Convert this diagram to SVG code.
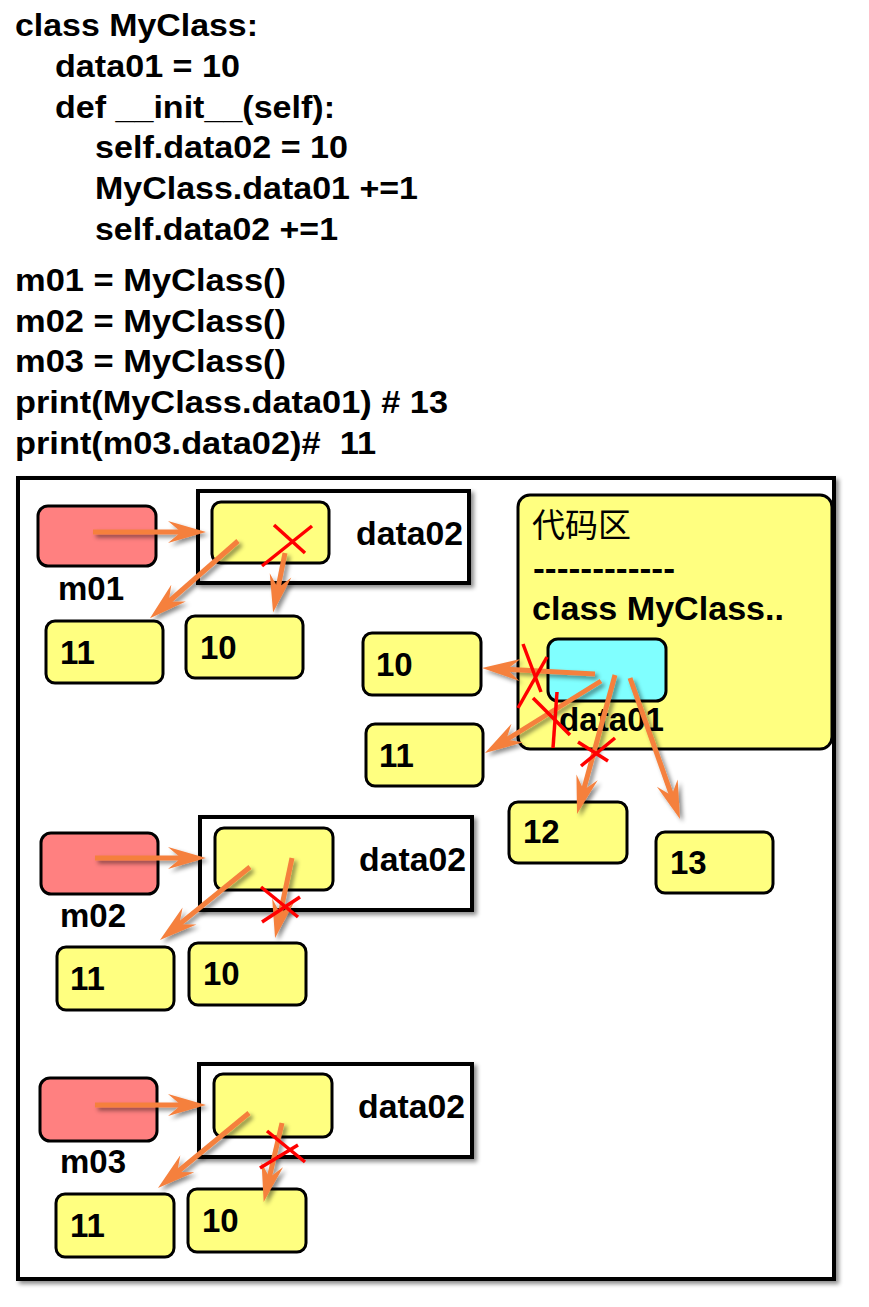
<svg xmlns="http://www.w3.org/2000/svg" width="869" height="1307" viewBox="0 0 869 1307">
<style>
.code{font-family:"Liberation Sans",Arial,sans-serif;font-weight:bold;font-size:32px;fill:#000}
.lbl{font-family:"Liberation Sans",Arial,sans-serif;font-weight:bold;font-size:33px;fill:#000}
.frame{fill:#fff;stroke:#000;stroke-width:4}
.ptr{fill:#FF8080;stroke:#000;stroke-width:3}
.val{fill:#FFFF80;stroke:#000;stroke-width:3}
.cls{fill:#80FFFF;stroke:#000;stroke-width:3}
.arr{stroke:#F5803E;stroke-width:5;fill:none;marker-end:url(#ah)}
.x{stroke:#FF0000;stroke-width:3.5;fill:none}
</style>
<defs>
<filter id="sh" x="-20%" y="-20%" width="140%" height="140%">
<feDropShadow dx="3" dy="3" stdDeviation="2" flood-color="#000" flood-opacity="0.45"/>
</filter>
<marker id="ah" viewBox="-42 -13 44 26" refX="-20" refY="0" markerWidth="44" markerHeight="26" markerUnits="userSpaceOnUse" orient="auto">
<path d="M0,0 L-38,-11 L-25,0 L-38,11 Z" fill="#F5803E"/>
</marker>
</defs>
<rect width="869" height="1307" fill="#fff"/>

<g id="code">
<text class="code" x="15" y="36" textLength="243" lengthAdjust="spacingAndGlyphs">class MyClass:</text>
<text class="code" x="55" y="77" textLength="185" lengthAdjust="spacingAndGlyphs">data01 = 10</text>
<text class="code" x="55" y="118" textLength="280" lengthAdjust="spacingAndGlyphs">def __init__(self):</text>
<text class="code" x="95" y="158" textLength="253" lengthAdjust="spacingAndGlyphs">self.data02 = 10</text>
<text class="code" x="95" y="199" textLength="323" lengthAdjust="spacingAndGlyphs">MyClass.data01 +=1</text>
<text class="code" x="95" y="240" textLength="243" lengthAdjust="spacingAndGlyphs">self.data02 +=1</text>
<text class="code" x="15" y="291" textLength="271" lengthAdjust="spacingAndGlyphs">m01 = MyClass()</text>
<text class="code" x="15" y="332" textLength="271" lengthAdjust="spacingAndGlyphs">m02 = MyClass()</text>
<text class="code" x="15" y="372" textLength="271" lengthAdjust="spacingAndGlyphs">m03 = MyClass()</text>
<text class="code" x="15" y="413" textLength="433" lengthAdjust="spacingAndGlyphs">print(MyClass.data01) # 13</text>
<text class="code" x="15" y="454" textLength="361" lengthAdjust="spacingAndGlyphs" xml:space="preserve">print(m03.data02)#  11</text>
</g>

<g id="outer">
<rect x="18" y="478" width="816" height="801" fill="#fff" stroke="#000" stroke-width="4" filter="url(#sh)"/>
</g>

<g id="obj01">
<rect class="frame" x="198" y="491" width="271" height="92" filter="url(#sh)"/>
<rect class="val" x="212" y="502" width="117" height="61" rx="9"/>
<text class="lbl" x="356" y="545" textLength="107" lengthAdjust="spacingAndGlyphs">data02</text>
</g>
<g id="m01">
<rect class="ptr" x="38" y="506" width="118" height="60" rx="10"/>
<text class="lbl" x="58" y="600">m01</text>
</g>
<g id="v01_11"><rect class="val" x="46" y="621" width="117" height="62" rx="9"/><text class="lbl" x="60" y="664">11</text></g>
<g id="v01_10"><rect class="val" x="186" y="616" width="117" height="62" rx="9"/><text class="lbl" x="200" y="659">10</text></g>

<g id="obj02">
<rect class="frame" x="200" y="817" width="272" height="93" filter="url(#sh)"/>
<rect class="val" x="215" y="828" width="118" height="62" rx="9"/>
<text class="lbl" x="359" y="871" textLength="107" lengthAdjust="spacingAndGlyphs">data02</text>
</g>
<g id="m02">
<rect class="ptr" x="41" y="833" width="117" height="61" rx="10"/>
<text class="lbl" x="60" y="927">m02</text>
</g>
<g id="v02_11"><rect class="val" x="57" y="947" width="117" height="63" rx="9"/><text class="lbl" x="70" y="990">11</text></g>
<g id="v02_10"><rect class="val" x="189" y="943" width="117" height="62" rx="9"/><text class="lbl" x="203" y="985">10</text></g>

<g id="obj03">
<rect class="frame" x="199" y="1064" width="273" height="93" filter="url(#sh)"/>
<rect class="val" x="214" y="1074" width="118" height="63" rx="9"/>
<text class="lbl" x="358" y="1118" textLength="107" lengthAdjust="spacingAndGlyphs">data02</text>
</g>
<g id="m03">
<rect class="ptr" x="40" y="1078" width="117" height="63" rx="10"/>
<text class="lbl" x="60" y="1173">m03</text>
</g>
<g id="v03_11"><rect class="val" x="56" y="1194" width="118" height="63" rx="9"/><text class="lbl" x="70" y="1237">11</text></g>
<g id="v03_10"><rect class="val" x="188" y="1189" width="118" height="63" rx="9"/><text class="lbl" x="202" y="1232">10</text></g>

<g id="codearea">
<rect class="val" x="518" y="495" width="314" height="254" rx="12"/>
<text x="532" y="537" font-family="'Noto Sans CJK SC',sans-serif" font-size="33" fill="#000">代码区</text>
<text class="lbl" x="533" y="580" textLength="142" lengthAdjust="spacingAndGlyphs">------------</text>
<text class="lbl" x="532" y="620" textLength="252" lengthAdjust="spacingAndGlyphs">class MyClass..</text>
<rect class="cls" x="548" y="639" width="118" height="62" rx="10"/>
<text class="lbl" x="559" y="731" textLength="105" lengthAdjust="spacingAndGlyphs">data01</text>
</g>
<g id="c10"><rect class="val" x="363" y="633" width="118" height="62" rx="9"/><text class="lbl" x="376" y="676">10</text></g>
<g id="c11"><rect class="val" x="366" y="724" width="117" height="62" rx="9"/><text class="lbl" x="379" y="767">11</text></g>
<g id="c12"><rect class="val" x="509" y="802" width="118" height="61" rx="9"/><text class="lbl" x="523" y="843">12</text></g>
<g id="c13"><rect class="val" x="656" y="832" width="117" height="61" rx="9"/><text class="lbl" x="670" y="874">13</text></g>

<g id="connectors" filter="url(#sh)">
<line class="arr" x1="93" y1="532" x2="186" y2="532"/>
<line class="arr" x1="238" y1="541" x2="165" y2="605"/>
<line class="arr" x1="285" y1="553" x2="277" y2="593"/>
<line class="arr" x1="95" y1="858" x2="186" y2="858"/>
<line class="arr" x1="250" y1="867" x2="175.5" y2="927.4"/>
<line class="arr" x1="292" y1="858" x2="279.2" y2="918.4"/>
<line class="arr" x1="95" y1="1105" x2="186" y2="1105"/>
<line class="arr" x1="249" y1="1113" x2="173.4" y2="1175.3"/>
<line class="arr" x1="282" y1="1123" x2="268.2" y2="1182.4"/>
<line class="arr" x1="595" y1="674" x2="502" y2="669"/>
<line class="arr" x1="601" y1="681" x2="502" y2="742.5"/>
<line class="arr" x1="615" y1="675" x2="582.3" y2="794.7"/>
<line class="arr" x1="630" y1="678" x2="673.3" y2="800.1"/>
</g>

<g id="crosses">
<line class="x" x1="262" y1="566" x2="312" y2="526"/>
<line class="x" x1="274" y1="525" x2="305" y2="553"/>
<line class="x" x1="261" y1="887" x2="298" y2="917"/>
<line class="x" x1="262" y1="922" x2="300" y2="897"/>
<line class="x" x1="267" y1="1131" x2="305" y2="1162"/>
<line class="x" x1="260" y1="1168" x2="298" y2="1145"/>
<line class="x" x1="523" y1="644" x2="541" y2="692"/>
<line class="x" x1="518" y1="708" x2="547" y2="657"/>
<line class="x" x1="533" y1="698" x2="570" y2="735"/>
<line class="x" x1="557" y1="692" x2="553" y2="748"/>
<line class="x" x1="578" y1="742" x2="608" y2="761"/>
<line class="x" x1="615" y1="738" x2="581" y2="766"/>
</g>
</svg>
